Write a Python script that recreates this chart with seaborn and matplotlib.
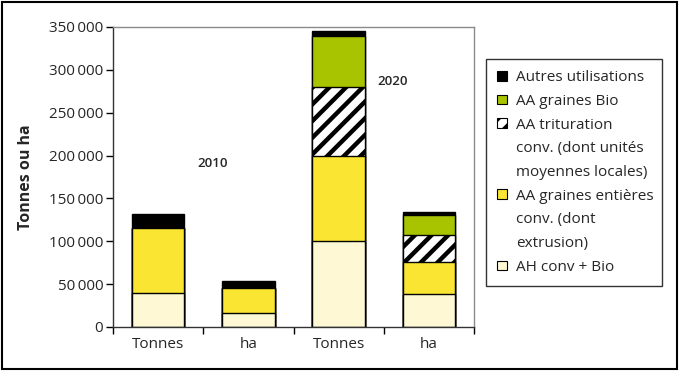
import numpy as np
import pandas as pd
import matplotlib
matplotlib.use("Agg")
import matplotlib.pyplot as plt
import matplotlib.patches as mpatches
import seaborn as sns

# ---- data ----
bars = ["Tonnes 2010", "ha 2010", "Tonnes 2020", "ha 2020"]
tick_labels = ["Tonnes", "ha", "Tonnes", "ha"]
ah_conv_bio = [40000, 16000, 100000, 39000]
aa_graines_entieres = [75000, 29000, 100000, 37000]
aa_trituration = [0, 0, 80000, 31000]
aa_graines_bio = [0, 0, 60000, 24000]
autres = [17000, 9000, 5000, 3000]
year_labels = ["2010", "2020"]
yticks = [0, 50000, 100000, 150000, 200000, 250000, 300000, 350000]

series_names = [
    ["AH conv + Bio"],
    ["AA graines entières", "conv. (dont", "extrusion)"],
    ["AA trituration", "conv. (dont unités", "moyennes locales)"],
    ["AA graines Bio"],
    ["Autres utilisations"],
]
series_vals = [ah_conv_bio, aa_graines_entieres, aa_trituration, aa_graines_bio, autres]
colors = ["#FFF8D4", "#FAE632", "white", "#A8C400", "black"]
hatches = [None, None, "//", None, None]

sns.set_theme(style="white")
plt.rcParams["font.family"] = ["Open Sans", "DejaVu Sans"]
plt.rcParams["hatch.linewidth"] = 3.2
plt.rcParams["hatch.color"] = "black"

FS = 11

fig = plt.figure(figsize=(6.79, 3.71), dpi=100)
ax = fig.add_axes([113 / 679, 1 - 327 / 371, 361 / 679, 300 / 371])

cum = np.zeros(len(bars))
cums = []
for v in series_vals:
    cum = cum + np.array(v)
    cums.append(cum.copy())

# draw from the top layer down so lower layers cover upper cumulative bars
for i in reversed(range(len(series_vals))):
    df = pd.DataFrame({"bar": bars, "value": cums[i]})
    sns.barplot(data=df, x="bar", y="value", order=bars, ax=ax, width=0.58,
                color=colors[i], saturation=1, edgecolor="black", linewidth=1.0,
                hatch=hatches[i], errorbar=None)

ax.set_xlim(-0.5, 3.5)
ax.set_ylim(0, 350000)
ax.set_yticks(yticks)
ax.set_yticklabels([f"{t:,}".replace(",", "\u2009") for t in yticks], fontsize=FS)
ax.set_xticks([-0.5, 0.5, 1.5, 2.5, 3.5])
ax.set_xticklabels([])
ax.set_xticks([0, 1, 2, 3], minor=True)
ax.set_xticklabels(tick_labels, minor=True, fontsize=FS)
ax.tick_params(axis="x", which="major", direction="out", length=5, width=1, color="black", bottom=True)
ax.tick_params(axis="x", which="minor", length=0, pad=7)
ax.tick_params(axis="y", direction="out", length=5, width=1, color="black", left=True, pad=2)
ax.set_xlabel("")
ax.set_ylabel("Tonnes ou ha", fontsize=11.5, fontweight="bold", labelpad=11)

for side in ["left", "bottom"]:
    ax.spines[side].set_color("#333333")
    ax.spines[side].set_linewidth(1.0)
for side in ["top", "right"]:
    ax.spines[side].set_color("#8a8a8a")
    ax.spines[side].set_linewidth(1.0)

ax.text(0.6, 191000, year_labels[0], fontsize=9.5, fontweight="semibold", ha="center", va="center")
ax.text(2.6, 286000, year_labels[1], fontsize=9.5, fontweight="semibold", ha="center", va="center")

handles, labels = [], []
for i in reversed(range(len(series_vals))):
    for j, line in enumerate(series_names[i]):
        if j == 0:
            handles.append(mpatches.Patch(facecolor=colors[i], edgecolor="black",
                                          hatch=hatches[i], linewidth=0.8))
        else:
            handles.append(mpatches.Patch(facecolor="none", edgecolor="none"))
        labels.append(line)

leg = fig.legend(handles, labels, loc="upper left",
                 bbox_to_anchor=(486 / 679, 1 - 59 / 371, 176 / 679, 0.001), mode="expand",
                 frameon=True, fancybox=False, edgecolor="black", fontsize=FS,
                 handlelength=0.6, handleheight=0.6, handletextpad=0.6,
                 labelspacing=0.57, borderpad=0.75, borderaxespad=0)
leg.get_frame().set_linewidth(1.0)

fig.patches.append(mpatches.Rectangle((2 / 679, 2 / 371), 675 / 679, 367 / 371,
                                      transform=fig.transFigure, fill=False,
                                      edgecolor="black", linewidth=1.5))

fig.savefig("out.png", dpi=100)
